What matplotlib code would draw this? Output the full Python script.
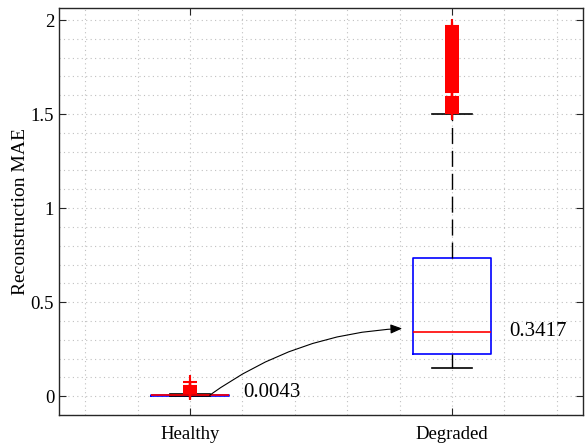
import matplotlib
matplotlib.use('Agg')
import matplotlib.pyplot as plt
from matplotlib.ticker import MultipleLocator

# box statistics
categories = ['Healthy', 'Degraded']
medians = [0.0043, 0.3417]
q1 = [0.0015, 0.223]
q3 = [0.0075, 0.737]
whislo = [0.0, 0.149]
whishi = [0.014, 1.501]

healthy_fliers = [0.016, 0.019, 0.022, 0.025, 0.028, 0.031, 0.034, 0.037,
                  0.040, 0.043, 0.046, 0.056, 0.075]
degraded_fliers = [1.505, 1.512, 1.519, 1.527, 1.534, 1.541, 1.548, 1.556,
                   1.563, 1.570, 1.578, 1.585, 1.592,
                   1.615, 1.622, 1.629, 1.637, 1.644, 1.651, 1.659, 1.666,
                   1.673, 1.681, 1.688, 1.695, 1.703, 1.710, 1.717, 1.725,
                   1.732, 1.739, 1.747, 1.754, 1.761, 1.769, 1.776, 1.783,
                   1.791, 1.798, 1.805, 1.813, 1.820, 1.827, 1.835, 1.842,
                   1.849, 1.857, 1.864, 1.871, 1.879, 1.886, 1.893, 1.901,
                   1.908, 1.915, 1.923, 1.930, 1.937, 1.945, 1.952, 1.959,
                   1.966]
fliers = [healthy_fliers, degraded_fliers]

plt.rcParams['font.family'] = ['Liberation Serif', 'DejaVu Serif']

fig = plt.figure(figsize=(5.87, 4.44), dpi=100)
ax = fig.add_axes([59 / 587, 29 / 444, 524 / 587, 407 / 444])

stats = []
for i in range(len(categories)):
    stats.append({'med': medians[i], 'q1': q1[i], 'q3': q3[i],
                  'whislo': whislo[i], 'whishi': whishi[i],
                  'fliers': fliers[i], 'label': categories[i]})

ax.bxp(stats, positions=[1, 2], widths=0.3, showfliers=True,
       boxprops=dict(color='blue', linewidth=1.2),
       medianprops=dict(color='red', linewidth=1.2),
       whiskerprops=dict(color='black', linewidth=1.0, linestyle=(0, (11.5, 5))),
       capprops=dict(color='black', linewidth=1.2),
       flierprops=dict(marker='+', markeredgecolor='red', markersize=10,
                       markeredgewidth=1.5, linestyle='none'),
       capwidths=0.15)

ax.set_xlim(0.5, 2.5)
ax.set_ylim(-0.1, 2.064)
ax.set_yticks([0, 0.5, 1, 1.5, 2])
ax.set_yticklabels(['0', '0.5', '1', '1.5', '2'])
ax.xaxis.set_minor_locator(MultipleLocator(0.2))
ax.yaxis.set_minor_locator(MultipleLocator(0.1))

ax.grid(True, which='both', linestyle=(0, (1, 3)), color='#c0c0c0', linewidth=0.8)
ax.set_axisbelow(True)

ax.tick_params(which='major', direction='in', length=5, top=True, right=True,
               labelsize=13.5, color='#262626')
ax.tick_params(axis='x', pad=8)
ax.tick_params(which='minor', length=0, top=True, right=True)
for s in ax.spines.values():
    s.set_color('#262626')
    s.set_linewidth(1.0)

ax.set_ylabel('Reconstruction MAE', fontsize=14, labelpad=1.5)

# value labels and arrow
ax.text(1.204, 0.02, '0.0043', fontsize=15, va='center', ha='left')
ax.text(2.22, 0.3417, '0.3417', fontsize=15, va='center', ha='left')
ax.annotate('', xy=(1.81, 0.36), xytext=(1.075, 0.005),
            arrowprops=dict(arrowstyle='-|>,head_length=0.5,head_width=0.2',
                            color='black', lw=0.8, mutation_scale=14,
                            shrinkA=0, shrinkB=0,
                            connectionstyle='arc3,rad=-0.15'))

fig.savefig('out.png', dpi=100)
